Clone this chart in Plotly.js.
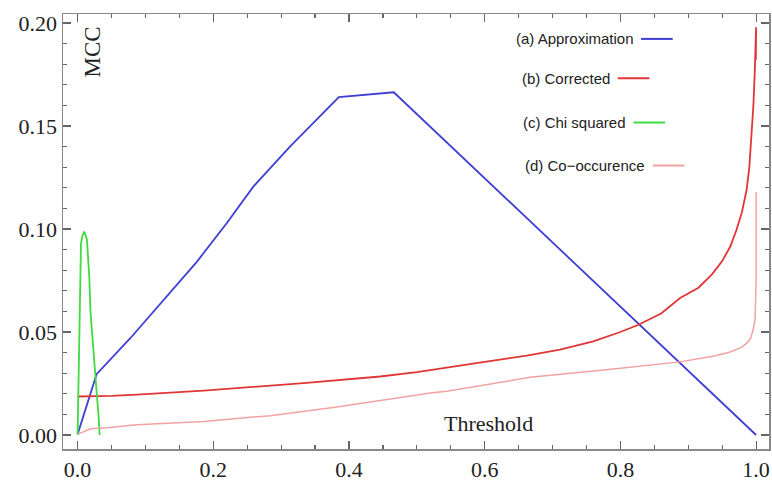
<!DOCTYPE html>
<html>
<head>
<meta charset="utf-8">
<script src="https://cdn.plot.ly/plotly-3.0.1.min.js"></script>
<style>html,body{margin:0;padding:0;background:#fff;}#chart{width:772px;height:482px;}</style>
</head>
<body>
<div id="chart"></div>
<script>
// Threshold vs MCC
const approxX = [0, 0.028, 0.078, 0.122, 0.176, 0.220, 0.259, 0.313, 0.385, 0.466, 1.0];
const approxY = [0.0003, 0.0295, 0.0471, 0.064, 0.0842, 0.1029, 0.1206, 0.140, 0.164, 0.1664, 0.0];

const correctedX = [0, 0.05, 0.0875, 0.186, 0.333, 0.446, 0.50, 0.544, 0.60, 0.662, 0.711, 0.76, 0.80, 0.8266, 0.86, 0.888, 0.915, 0.935, 0.95, 0.962, 0.971, 0.979, 0.986, 0.990, 0.9935, 0.996, 0.998, 0.9993, 1.0, 0.9996];
const correctedY = [0.0187, 0.019, 0.0196, 0.0215, 0.0252, 0.0284, 0.0305, 0.0328, 0.0355, 0.0385, 0.0414, 0.0455, 0.050, 0.0535, 0.059, 0.0665, 0.0715, 0.078, 0.0845, 0.0915, 0.0995, 0.108, 0.119, 0.130, 0.145, 0.160, 0.176, 0.188, 0.198, 0.182];

const chiX = [0, 0.0003, 0.001, 0.0025, 0.005, 0.0074, 0.0099, 0.0138, 0.0172, 0.019, 0.023, 0.028, 0.031, 0.0325];
const chiY = [0, 0.006, 0.028, 0.061, 0.093, 0.097, 0.0988, 0.0948, 0.077, 0.060, 0.041, 0.021, 0.009, 0.0];

const coocX = [0, 0.019, 0.043, 0.0875, 0.186, 0.284, 0.382, 0.446, 0.52, 0.544, 0.667, 0.79, 0.888, 0.94, 0.9617, 0.978, 0.986, 0.992, 0.9955, 0.9985, 1.0, 1.0];
const coocY = [0.0003, 0.003, 0.0035, 0.005, 0.0066, 0.0094, 0.0136, 0.0168, 0.0204, 0.0212, 0.028, 0.032, 0.0355, 0.0385, 0.0403, 0.0425, 0.0445, 0.047, 0.051, 0.056, 0.075, 0.118];

const seriesNames = ["(a) Approximation", "(b) Corrected", "(c) Chi squared", "(d) Co\u2212occurence"];
const seriesColors = ["#3f3fd6", "#e03636", "#3fdc3f", "#f2a2a2"];
const seriesWidths = [1.8, 1.8, 1.8, 1.5];

const xTickVals = [0, 0.2, 0.4, 0.6, 0.8, 1.0];
const xTickText = ["0.0", "0.2", "0.4", "0.6", "0.8", "1.0"];
const yTickVals = [0, 0.05, 0.10, 0.15, 0.20];
const yTickText = ["0.00", "0.05", "0.10", "0.15", "0.20"];

// legend entry anchor positions (start of sample line, data units)
const legendLineX = [0.8305, 0.7962, 0.8192, 0.8478];
const legendLineY = [0.1923, 0.1732, 0.1517, 0.1308];
const legendLineLen = 0.0466;

const xs = [approxX, correctedX, chiX, coocX];
const ys = [approxY, correctedY, chiY, coocY];

const traces = xs.map((x, i) => ({
  x: x, y: ys[i], type: "scatter", mode: "lines", name: seriesNames[i],
  line: {color: seriesColors[i], width: seriesWidths[i]}, hoverinfo: "skip"
}));

const serif = "Liberation Serif, Times New Roman, serif";
const sans = "Liberation Sans, Arial, sans-serif";

const annotations = [
  {x: 0.022, y: 0.186, xref: "x", yref: "y", text: "MCC", showarrow: false, textangle: -90,
   font: {family: serif, size: 23, color: "#222"}},
  {x: 0.605, y: 0.0058, xref: "x", yref: "y", text: "Threshold", showarrow: false,
   font: {family: serif, size: 22, color: "#222"}}
];
const shapes = [];
seriesNames.forEach((n, i) => {
  annotations.push({x: legendLineX[i] - 0.008, y: legendLineY[i], xref: "x", yref: "y", text: n,
    showarrow: false, xanchor: "right", yanchor: "middle",
    font: {family: sans, size: 15, color: "#222"}});
  shapes.push({type: "line", xref: "x", yref: "y", x0: legendLineX[i], x1: legendLineX[i] + legendLineLen,
    y0: legendLineY[i], y1: legendLineY[i], line: {color: seriesColors[i], width: 2}});
});

const axisCommon = {
  showgrid: false, zeroline: false, showline: true, linecolor: "#8a8a8a", linewidth: 1.5,
  mirror: "allticks", ticks: "inside", ticklen: 8, tickwidth: 1.2, tickcolor: "#666",
  tickfont: {family: serif, size: 22, color: "#222"}
};

const layout = {
  width: 772, height: 482,
  margin: {l: 63, r: 3, t: 14, b: 33},
  paper_bgcolor: "#fff", plot_bgcolor: "#fff",
  showlegend: false,
  xaxis: Object.assign({}, axisCommon, {range: [-0.0215, 1.019], tickvals: xTickVals, ticktext: xTickText,
    minor: {dtick: 0.05, tick0: 0, ticks: "inside", ticklen: 4, tickcolor: "#666", tickwidth: 1.2}}),
  yaxis: Object.assign({}, axisCommon, {range: [-0.0068, 0.2044], tickvals: yTickVals, ticktext: yTickText,
    minor: {dtick: 0.01, tick0: 0, ticks: "inside", ticklen: 4, tickcolor: "#666", tickwidth: 1.2}}),
  annotations: annotations,
  shapes: shapes
};

Plotly.newPlot("chart", traces, layout, {displayModeBar: false, staticPlot: true});
</script>
</body>
</html>
